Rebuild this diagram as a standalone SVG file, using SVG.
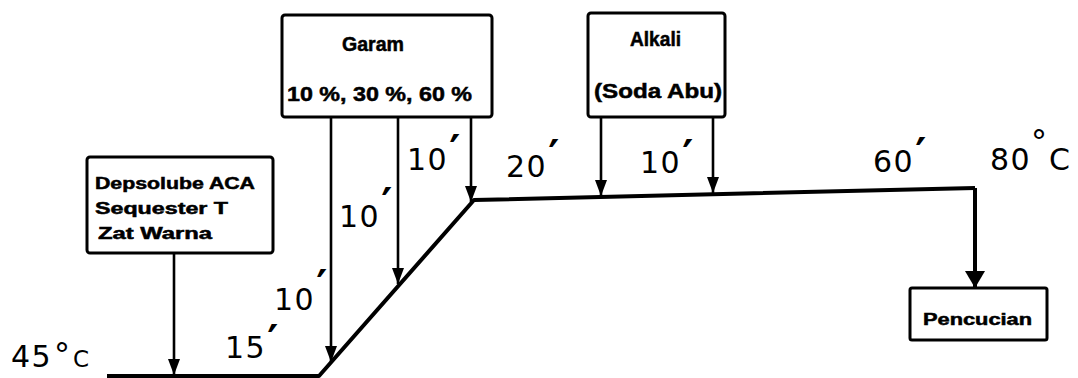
<svg xmlns="http://www.w3.org/2000/svg" width="1078" height="378" viewBox="0 0 1078 378">
  <style>
    .box { fill: #ffffff; stroke: #000000; stroke-width: 3; }
    .lbl { font-family: "Liberation Sans", Arial, sans-serif; font-weight: bold; fill: #000000; stroke: #000000; stroke-width: 0.5; }
    .num { font-family: "DejaVu Sans", sans-serif; font-size: 30px; letter-spacing: 1.5px; fill: #000000; }
    .pr { font-family: "DejaVu Sans", sans-serif; font-weight: bold; font-size: 42px; letter-spacing: 0; }
    .deg { font-size: 32px; }
    .feed { fill: none; stroke: #000000; stroke-width: 2.6; }
    .profile { fill: none; stroke: #000000; stroke-width: 4; stroke-linejoin: round; }
  </style>
  <defs>
    <marker id="ah" viewBox="0 0 16 12" refX="16" refY="6" markerWidth="16" markerHeight="12" markerUnits="userSpaceOnUse" orient="auto">
      <path d="M0,0 L16,6 L0,12 z" fill="#000000"/>
    </marker>
    <marker id="ahb" viewBox="0 0 17 20" refX="17" refY="10" markerWidth="17" markerHeight="20" markerUnits="userSpaceOnUse" orient="auto">
      <path d="M0,0 L17,10 L0,20 z" fill="#000000"/>
    </marker>
  </defs>

  <rect width="1078" height="378" fill="#ffffff"/>

  <!-- temperature / time profile and dosing arrows -->
  <g id="connectors">
    <path class="profile" d="M107,376 L319,376 L474,200 L975,188"/>
    <path class="profile" d="M975,188 L975,288" marker-end="url(#ahb)"/>
    <line class="feed" x1="174" y1="253" x2="174" y2="375" marker-end="url(#ah)"/>
    <line class="feed" x1="331" y1="117" x2="331" y2="362" marker-end="url(#ah)"/>
    <line class="feed" x1="398" y1="117" x2="398" y2="284" marker-end="url(#ah)"/>
    <line class="feed" x1="471" y1="117" x2="471" y2="202" marker-end="url(#ah)"/>
    <line class="feed" x1="601" y1="117" x2="601" y2="196" marker-end="url(#ah)"/>
    <line class="feed" x1="713" y1="117" x2="713" y2="193" marker-end="url(#ah)"/>
  </g>

  <!-- chemical additions -->
  <g id="node-depsolube">
    <rect class="box" x="87" y="157" width="186" height="96" rx="3"/>
    <text class="lbl" font-size="16" x="95" y="189" textLength="160" lengthAdjust="spacingAndGlyphs">Depsolube ACA</text>
    <text class="lbl" font-size="16" x="95" y="214" textLength="133" lengthAdjust="spacingAndGlyphs">Sequester T</text>
    <text class="lbl" font-size="16" x="98" y="239" textLength="114" lengthAdjust="spacingAndGlyphs">Zat Warna</text>
  </g>

  <g id="node-garam">
    <rect class="box" x="282" y="15" width="210" height="102" rx="3"/>
    <text class="lbl" font-size="20" x="342" y="51" textLength="62" lengthAdjust="spacingAndGlyphs">Garam</text>
    <text class="lbl" font-size="20" x="287" y="101" textLength="185" lengthAdjust="spacingAndGlyphs">10 %, 30 %, 60 %</text>
  </g>

  <g id="node-alkali">
    <rect class="box" x="588" y="13" width="137" height="104" rx="3"/>
    <text class="lbl" font-size="20" x="630" y="46" textLength="51" lengthAdjust="spacingAndGlyphs">Alkali</text>
    <text class="lbl" font-size="20" x="594" y="98" textLength="128" lengthAdjust="spacingAndGlyphs">(Soda Abu)</text>
  </g>

  <g id="node-pencucian">
    <rect class="box" x="910" y="288" width="137" height="52" rx="2"/>
    <text class="lbl" font-size="16" x="923" y="325" textLength="109" lengthAdjust="spacingAndGlyphs">Pencucian</text>
  </g>

  <!-- temperatures -->
  <g id="temp-start">
    <text class="num" x="11" y="367">45<tspan class="deg" x="54" y="366">°</tspan><tspan x="73" y="367" font-size="23">C</tspan></text>
  </g>
  <g id="temp-end">
    <text class="num" x="990" y="170">80<tspan class="deg" x="1031" y="153">°</tspan><tspan x="1049" y="170">C</tspan></text>
  </g>

  <!-- durations (minutes) -->
  <g id="durations">
    <text class="num" x="225" y="358">15<tspan class="pr" dx="1" dy="-3">′</tspan></text>
    <text class="num" x="274" y="310">10<tspan class="pr" dx="1" dy="-10">′</tspan></text>
    <text class="num" x="339" y="227">10<tspan class="pr" dx="1" dy="-9">′</tspan></text>
    <text class="num" x="407" y="170">10<tspan class="pr" dx="1" dy="-5">′</tspan></text>
    <text class="num" x="506" y="177">20<tspan class="pr" dx="1" dy="-7">′</tspan></text>
    <text class="num" x="640" y="173">10<tspan class="pr" dx="1" dy="-3">′</tspan></text>
    <text class="num" x="873" y="172">60<tspan class="pr" dx="1" dy="-4">′</tspan></text>
  </g>
</svg>
